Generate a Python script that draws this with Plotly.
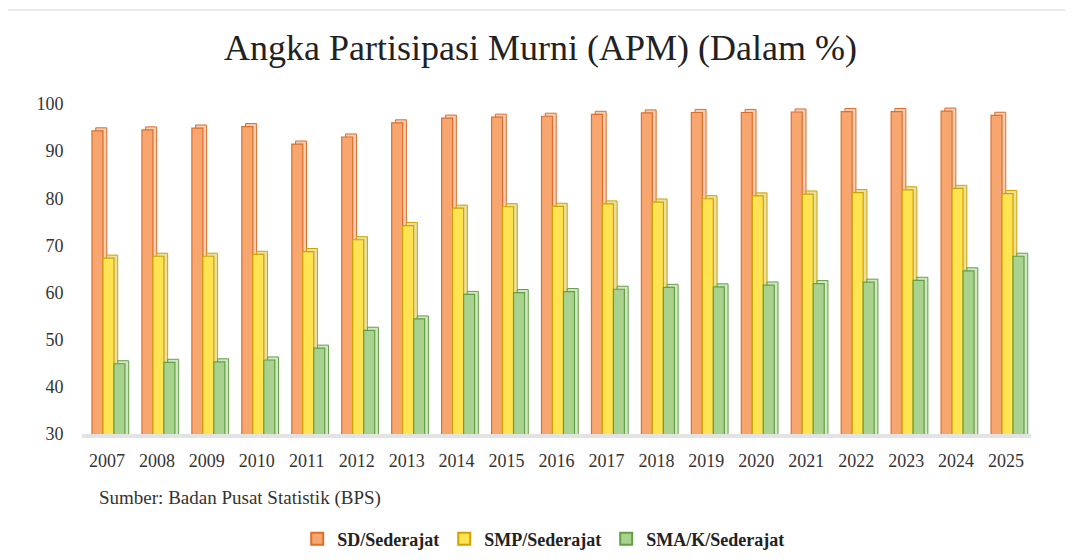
import plotly.graph_objects as go

years = ["2007", "2008", "2009", "2010", "2011", "2012", "2013", "2014", "2015", "2016",
         "2017", "2018", "2019", "2020", "2021", "2022", "2023", "2024", "2025"]
sd = [94.3, 94.5, 94.9, 95.2, 91.5, 93.0, 96.0, 97.0, 97.2, 97.4,
      97.8, 98.1, 98.2, 98.2, 98.3, 98.4, 98.4, 98.5, 97.6]
smp = [67.3, 67.7, 67.7, 68.1, 68.7, 71.2, 74.2, 77.9, 78.2, 78.3,
       78.8, 79.2, 79.9, 80.5, 80.9, 81.2, 81.8, 82.1, 81.0]
sma = [44.9, 45.2, 45.3, 45.7, 48.2, 52.0, 54.4, 59.6, 60.0, 60.2,
       60.7, 61.1, 61.2, 61.6, 61.9, 62.2, 62.6, 64.6, 67.7]

series = [
    ("SD/Sederajat", sd, "#F8A670", "#DC6F2C", "#F1CDB4", -0.30),
    ("SMP/Sederajat", smp, "#FFE352", "#CFA300", "#EADF9F", -0.08),
    ("SMA/K/Sederajat", sma, "#A8D28D", "#62A044", "#D2E5C5", 0.14),
]

W = 0.22
DX = 0.075
DY = 0.65
SERIF = "Liberation Serif, Times New Roman, serif"

fig = go.Figure()
for name, vals, face, edge, side, off in series:
    # depth (3D back face)
    fig.add_trace(go.Bar(
        x=years, y=vals, base=DY, width=W, offset=off + DX,
        marker=dict(color=side, line=dict(color=edge, width=1)),
        showlegend=False, hoverinfo="skip",
    ))
    # front face
    fig.add_trace(go.Bar(
        x=years, y=vals, width=W, offset=off, name=name,
        marker=dict(color=face, line=dict(color=edge, width=1.2)),
    ))

fig.update_layout(
    barmode="overlay",
    width=1065, height=552,
    paper_bgcolor="white", plot_bgcolor="white",
    margin=dict(l=74, r=42, t=96, b=126, autoexpand=False),
    title=dict(text="Angka Partisipasi Murni (APM) (Dalam %)",
               x=0.5, xanchor="center", y=0.929, yanchor="middle",
               font=dict(family=SERIF, size=36, color="#222222")),
    xaxis=dict(type="category", showgrid=False, zeroline=False,
               showline=True, linecolor="#E3E3E3", linewidth=4,
               ticks="outside", ticklen=7, tickcolor="rgba(0,0,0,0)",
               tickfont=dict(family=SERIF, size=18, color="#333333")),
    yaxis=dict(range=[30, 100], dtick=10, showgrid=False, zeroline=False,
               showline=False, ticks="outside", ticklen=14, tickcolor="rgba(0,0,0,0)",
               tickfont=dict(family=SERIF, size=18, color="#333333")),
    legend=dict(orientation="h", x=0.486, xanchor="center",
                yref="container", y=0.038, yanchor="middle",
                font=dict(family=SERIF, size=18, color="#222222", weight="bold"),
                itemsizing="constant", traceorder="normal"),
    annotations=[dict(text="Sumber: Badan Pusat Statistik (BPS)", xref="paper", yref="paper",
                      x=0.0158, y=-0.194, xanchor="left", yanchor="middle", showarrow=False,
                      font=dict(family=SERIF, size=19, color="#333333"))],
    shapes=[dict(type="line", xref="paper", yref="paper", x0=-0.1, x1=1.1, y0=1.285, y1=1.285,
                 line=dict(color="#D8D8D8", width=1))],
)

fig.write_html("out.html")
